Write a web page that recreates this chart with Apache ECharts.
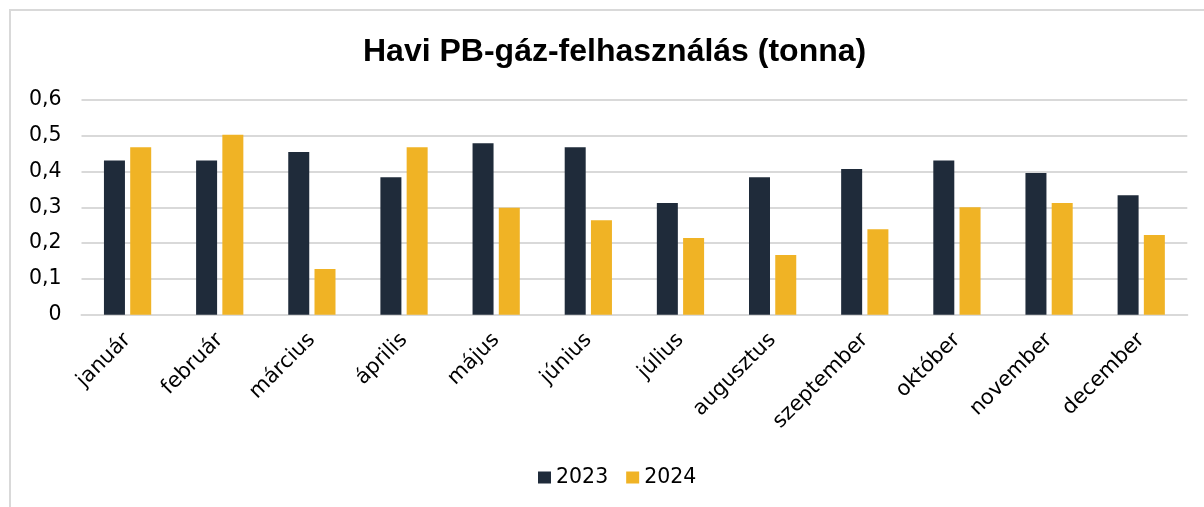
<!DOCTYPE html>
<html><head><meta charset="utf-8">
<script src="https://cdn.jsdelivr.net/npm/echarts@6/dist/echarts.min.js"></script>
<style>
html,body{margin:0;padding:0;background:#fff;}
#frame{position:absolute;left:9px;top:9px;width:1300px;height:600px;border:2px solid #d9d9d9;box-sizing:border-box;}
#c{position:absolute;left:0;top:0;width:1204px;height:507px;}
</style></head>
<body>
<div id="frame"></div>
<div id="c"></div>
<script>
const categories = ['január','február','március','április','május','június','július','augusztus','szeptember','október','november','december'];
const seriesNames = ['2023','2024'];
const values2023 = [0.431,0.431,0.455,0.384,0.479,0.468,0.312,0.384,0.407,0.431,0.396,0.334];
const values2024 = [0.468,0.503,0.128,0.468,0.299,0.264,0.214,0.167,0.239,0.300,0.312,0.223];
const yTicks = [0,0.1,0.2,0.3,0.4,0.5,0.6];
const titleText = 'Havi PB-gáz-felhasználás (tonna)';

const chart = echarts.init(document.getElementById('c'), null, {renderer:'canvas'});
const titleFont = 'Liberation Sans, Arial, sans-serif';
const font = 'DejaVu Sans, sans-serif';
chart.setOption({
  animation:false,
  backgroundColor:'transparent',
  title:{text:titleText,left:358,top:31,textStyle:{fontFamily:titleFont,fontSize:32,fontWeight:'bold',color:'#000'}},
  legend:{data:seriesNames,top:462,left:533,itemWidth:13,itemHeight:12,itemGap:18,icon:'rect',
    textStyle:{fontFamily:font,fontSize:20.5,color:'#000'}},
  grid:{left:81.5,right:16.7,top:100,bottom:192.3,containLabel:false},
  xAxis:{type:'category',data:categories,
    axisLine:{lineStyle:{color:'#d9d9d9',width:2}},axisTick:{show:false},
    axisLabel:{rotate:45,interval:0,margin:22,fontFamily:font,fontSize:21,color:'#000'}},
  yAxis:{type:'value',min:yTicks[0],max:yTicks[yTicks.length-1],interval:0.1,
    axisLine:{show:false},axisTick:{show:false},
    splitLine:{lineStyle:{color:'#d9d9d9',width:2}},
    axisLabel:{margin:20,fontFamily:font,fontSize:20.5,color:'#000',
      formatter:v=>String(+v.toFixed(1)).replace('.',',')}},
  series:[
    {name:seriesNames[0],type:'bar',data:values2023,barWidth:21,barGap:'25%',itemStyle:{color:'#1f2b3a'}},
    {name:seriesNames[1],type:'bar',data:values2024,barWidth:21,barGap:'25%',itemStyle:{color:'#f0b325'}}
  ]
});
</script>
</body></html>
